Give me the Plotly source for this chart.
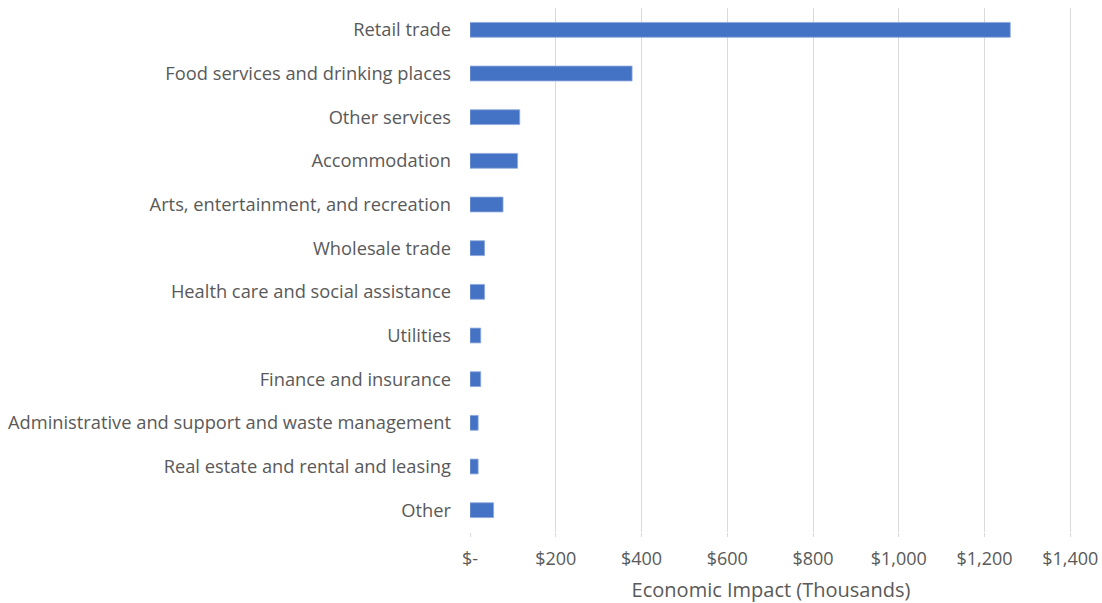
import plotly.graph_objects as go

# sectors, top to bottom as drawn
sectors = [
    'Retail trade',
    'Food services and drinking places',
    'Other services',
    'Accommodation',
    'Arts, entertainment, and recreation',
    'Wholesale trade',
    'Health care and social assistance',
    'Utilities',
    'Finance and insurance',
    'Administrative and support and waste management',
    'Real estate and rental and leasing',
    'Other',
]
impact = [1260, 378, 116, 111, 77, 34, 34, 25, 25, 19, 19, 55]

tick_vals = [0, 200, 400, 600, 800, 1000, 1200, 1400]
tick_text = ['$-', '$200', '$400', '$600', '$800', '$1,000', '$1,200', '$1,400']

text_color = '#595959'
font_family = 'Open Sans, Noto Sans, sans-serif'

fig = go.Figure(
    go.Bar(
        x=impact,
        y=sectors,
        orientation='h',
        marker=dict(color='#4472C4', line=dict(color='#8FAADC', width=0.8)),
        hoverinfo='x+y',
    )
)

fig.update_layout(
    width=1102,
    height=603,
    margin=dict(l=470, r=30, t=8, b=71),
    paper_bgcolor='white',
    plot_bgcolor='white',
    bargap=0.66,
    showlegend=False,
    font=dict(family=font_family, size=18, color=text_color),
)

fig.update_xaxes(
    range=[0, 1404],  # a little past 1400 so the last gridline is kept
    tickvals=tick_vals,
    ticktext=tick_text,
    showgrid=True,
    gridcolor='#D9D9D9',
    gridwidth=1.2,
    zeroline=False,
    showline=False,
    ticks='outside',
    ticklen=4,
    tickcolor='#D9D9D9',
    ticklabelstandoff=6,
    ticklabeloverflow='allow',
    title=dict(text='Economic Impact (Thousands)', font=dict(size=20, color=text_color), standoff=14),
    automargin=False,
)

fig.update_yaxes(
    autorange='reversed',
    showgrid=False,
    zeroline=False,
    showline=False,
    ticks='',
    tickfont=dict(size=18.3),
    ticklabelstandoff=18,
    automargin=False,
)

# drop the default page margin so the figure sits flush in the window
fig.write_html(
    'out.html',
    config={'displayModeBar': False},
    post_script="document.body.style.margin='0';",
)
